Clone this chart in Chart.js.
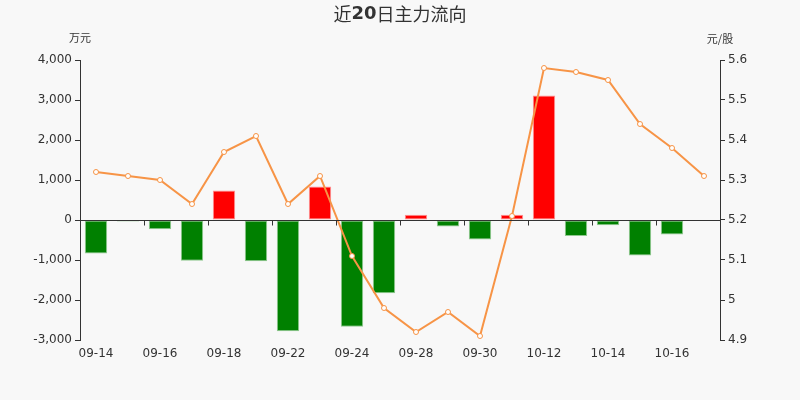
<!DOCTYPE html>
<html>
<head>
<meta charset="utf-8">
<script src="https://cdn.jsdelivr.net/npm/chart.js@4/dist/chart.umd.min.js"></script>
<style>
html,body{margin:0;padding:0;background:#f8f8f8;}
#wrap{width:800px;height:400px;position:relative;}
</style>
</head>
<body>
<div id="wrap"><canvas id="c" width="800" height="400"></canvas></div>
<script>
const titleParts = [['近', false], ['20', true], ['日主力流向', false]];
const leftUnit = '万元';
const rightUnit = '元/股';
const dates = ['09-14','09-15','09-16','09-17','09-18','09-21','09-22','09-23','09-24','09-25',
               '09-28','09-29','09-30','10-09','10-12','10-13','10-14','10-15','10-16','10-19'];
const flow = [-840,-40,-230,-1020,740,-1030,-2780,840,-2670,-1830,
              130,-160,-490,130,3110,-400,-130,-890,-360,0];
const price = [5.32,5.31,5.30,5.24,5.37,5.41,5.24,5.31,5.11,4.98,
               4.92,4.97,4.91,5.21,5.58,5.57,5.55,5.44,5.38,5.31];
const leftTicks = {min:-3000, max:4000, step:1000};
const rightTicks = {min:4.9, max:5.6, step:0.1};

const FONT = "'DejaVu Sans', sans-serif";
const CJK = "'Noto Sans CJK SC', sans-serif";
const TXT = '#333';

const decor = {
  id: 'decor',
  beforeDraw(chart) {
    const c = chart.ctx;
    c.save();
    c.fillStyle = '#f8f8f8';
    c.fillRect(0, 0, chart.width, chart.height);
    c.restore();
  },
  afterDatasetsDraw(chart) {
    const c = chart.ctx;
    const x = chart.scales.x, y = chart.scales.y;
    const y0 = Math.round(y.getPixelForValue(0)) + 0.5;
    c.save();
    c.strokeStyle = TXT;
    c.lineWidth = 1;
    c.beginPath();
    c.moveTo(chart.chartArea.left, y0);
    c.lineTo(chart.chartArea.right, y0);
    const half = (x.getPixelForValue(1) - x.getPixelForValue(0)) / 2;
    for (let i = 0; i < dates.length; i += 2) {
      const px = Math.round(x.getPixelForValue(i) - half) + 0.5;
      c.moveTo(px, y0);
      c.lineTo(px, y0 + 5);
    }
    c.stroke();
    c.restore();
  },
  afterDraw(chart) {
    const c = chart.ctx;
    c.save();
    c.fillStyle = TXT;
    c.textBaseline = 'middle';
    const fontFor = b => b ? 'bold 18px ' + FONT : '18px ' + CJK;
    let total = 0;
    titleParts.forEach(([t, b]) => { c.font = fontFor(b); total += c.measureText(t).width; });
    let px = 400 - total / 2;
    c.textAlign = 'left';
    titleParts.forEach(([t, b]) => { c.font = fontFor(b); c.fillText(t, px, 14); px += c.measureText(t).width; });
    c.textAlign = 'center';
    c.font = '11px ' + CJK;
    c.fillText(leftUnit, chart.chartArea.left, 38);
    c.fillText(rightUnit, chart.chartArea.right, 39);
    c.restore();
  }
};

new Chart(document.getElementById('c'), {
  data: {
    labels: dates,
    datasets: [
      {
        type: 'line',
        data: price,
        yAxisID: 'y1',
        order: 0,
        borderColor: 'rgb(247,148,70)',
        borderWidth: 2,
        pointRadius: 2.5,
        pointBackgroundColor: '#ffffff',
        pointBorderColor: 'rgb(247,148,70)',
        pointBorderWidth: 1,
        tension: 0
      },
      {
        type: 'bar',
        data: flow,
        yAxisID: 'y',
        order: 1,
        backgroundColor: flow.map(v => v >= 0 ? '#ff0000' : '#008000'),
        borderColor: flow.map(v => v >= 0 ? '#ff9090' : '#90c890'),
        borderWidth: 1,
        borderSkipped: false,
        categoryPercentage: 1,
        barPercentage: 0.7
      }
    ]
  },
  options: {
    responsive: false,
    animation: false,
    layout: {padding: {top: 60, left: 0, right: 0, bottom: 0}},
    plugins: {legend: {display: false}, tooltip: {enabled: false}, title: {display: false}},
    scales: {
      x: {
        type: 'category',
        offset: true,
        grid: {display: false, drawTicks: false},
        border: {display: false},
        ticks: {
          autoSkip: false, maxRotation: 0, padding: 7,
          color: TXT, font: {family: FONT, size: 12},
          callback: (v, i) => i % 2 === 0 ? dates[i] : ''
        },
        afterFit: s => { s.height = 60; }
      },
      y: {
        position: 'left',
        min: leftTicks.min, max: leftTicks.max,
        grid: {color: 'transparent', tickColor: TXT, tickLength: 5, drawOnChartArea: true},
        border: {display: true, color: TXT, width: 1},
        ticks: {
          stepSize: leftTicks.step, padding: 3, color: TXT,
          font: {family: FONT, size: 12},
          callback: v => Number(v).toLocaleString('en-US')
        },
        afterFit: s => { s.width = 80; }
      },
      y1: {
        position: 'right',
        min: rightTicks.min, max: rightTicks.max,
        grid: {drawOnChartArea: false, tickColor: TXT, tickLength: 5},
        border: {display: true, color: TXT, width: 1},
        ticks: {
          stepSize: rightTicks.step, padding: 3, color: TXT,
          font: {family: FONT, size: 12},
          callback: v => String(+Number(v).toFixed(2))
        },
        afterFit: s => { s.width = 80; }
      }
    }
  },
  plugins: [decor]
});
</script>
</body>
</html>
